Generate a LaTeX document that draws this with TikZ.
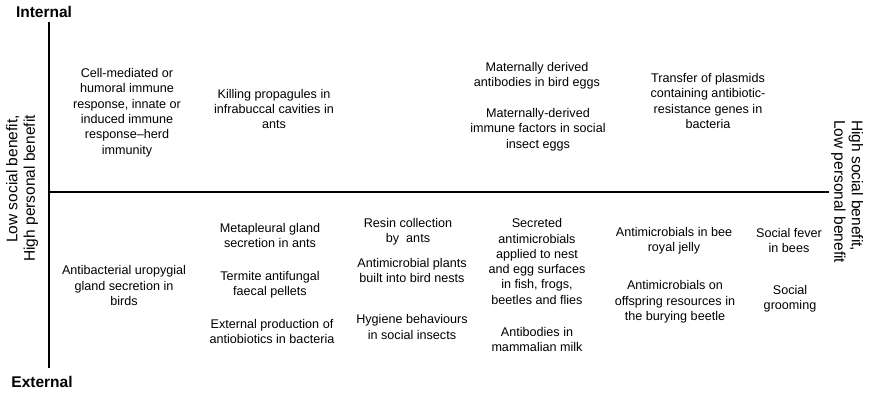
\documentclass[tikz,border=0pt]{standalone}
\usepackage{fontspec}
\setmainfont{Liberation Sans}
\newcommand{\itemfont}{\fontsize{12.6}{15.3}\selectfont}
\newcommand{\sidefont}{\fontsize{15.5}{17.5}\selectfont}
\newcommand{\poolfont}{\fontsize{15.5}{18}\selectfont\bfseries}
\tikzset{
  item/.style={align=center, font=\itemfont, inner sep=0pt},
  side/.style={font=\sidefont, inner sep=0pt},
  pole/.style={font=\poolfont, inner sep=0pt},
  axis/.style={line width=2.6pt}
}
\begin{document}
\begin{tikzpicture}[x=1pt, y=-1pt]
    \useasboundingbox (0,0) rectangle (869,393);
    % axes
    \coordinate (ytop) at (49,22);
    \coordinate (ybot) at (49,368);
    \coordinate (xleft) at (49,192);
    \coordinate (xright) at (829,192);
    \draw [axis] (ytop) -- (ybot);
    \draw [axis] (xleft) -- (xright);
    \node [pole] (internal) at (44,12) {Internal};
    \node [pole] (external) at (42,382) {External};
    \node [side, rotate=90, align=right, anchor=east] (lowsocial) at (22,115) {Low social benefit,\\High personal benefit};
    \node [side, rotate=-90, align=left, anchor=west] (highsocial) at (847,120) {High social benefit,\\Low personal benefit};
    % internal defences
    \node [item] (cellmed) at (127,112.5) {Cell-mediated or\\humoral immune\\response, innate or\\induced immune\\response--herd\\immunity};
    \node [item] (killing) at (274,109) {Killing propagules in\\infrabuccal cavities in\\ants};
    \node [item] (birdeggs) at (537,75.5) {Maternally derived\\antibodies in bird eggs};
    \node [item] (insecteggs) at (538,129.5) {Maternally-derived\\immune factors in social\\insect eggs};
    \node [item] (plasmids) at (708,101) {Transfer of plasmids\\containing antibiotic-\\resistance genes in\\bacteria};
    % external defences
    \node [item] (uropygial) at (124,285.5) {Antibacterial uropygial\\gland secretion in\\birds};
    \node [item] (metapleural) at (270,235.5) {Metapleural gland\\secretion in ants};
    \node [item] (termite) at (270,284.5) {Termite antifungal\\faecal pellets};
    \node [item] (extprod) at (272,331.5) {External production of\\antiobiotics in bacteria};
    \node [item] (resin) at (408,231.5) {Resin collection\\by~ ants};
    \node [item] (plants) at (412,270.5) {Antimicrobial plants\\built into bird nests};
    \node [item] (hygiene) at (412,327) {Hygiene behaviours\\in social insects};
    \node [item] (secreted) at (537,261.5) {Secreted\\antimicrobials\\applied to nest\\and egg surfaces\\in fish, frogs,\\beetles and flies};
    \node [item] (milk) at (537,339.5) {Antibodies in\\mammalian milk};
    \node [item] (jelly) at (674,240.5) {Antimicrobials in bee\\royal jelly};
    \node [item] (burying) at (675,302) {Antimicrobials on\\offspring resources in\\the burying beetle};
    \node [item] (fever) at (789,240.5) {Social fever\\in bees};
    \node [item] (grooming) at (790,299) {Social\\grooming};
\end{tikzpicture}
\end{document}
